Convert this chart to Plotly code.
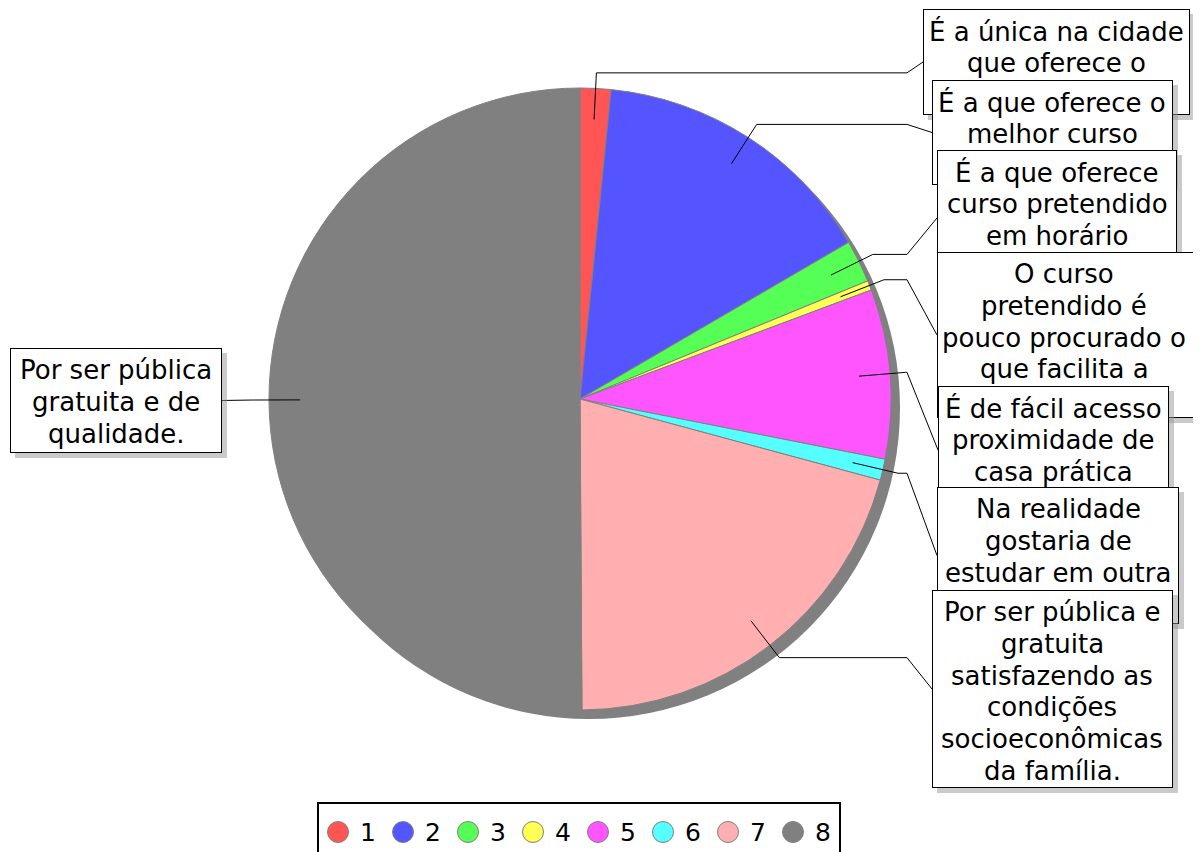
import math
import plotly.graph_objects as go

# ---------------- data ----------------
categories = ["1", "2", "3", "4", "5", "6", "7", "8"]
values = [1.6, 15.0, 2.2, 0.5, 8.8, 1.1, 20.7, 50.1]
colors = ["#FF5555", "#5555FF", "#55FF55", "#FFFF55",
          "#FF55FF", "#55FFFF", "#FFAFAF", "#808080"]
label_lines = [
    ["É a única na cidade", "que oferece o"],
    ["É a que oferece o", "melhor curso"],
    ["É a que oferece", "curso pretendido", "em horário"],
    ["O curso", "pretendido é", "pouco procurado o", "que facilita a"],
    ["É de fácil acesso", "proximidade de", "casa prática"],
    ["Na realidade", "gostaria de", "estudar em outra"],
    ["Por ser pública e", "gratuita", "satisfazendo as", "condições",
     "socioeconômicas", "da família."],
    ["Por ser pública", "gratuita e de", "qualidade."],
]

# ---------------- layout constants (screen pixels) ----------------
W, H = 1201, 852
PAGE_OFF = 8          # default body margin of the html page
CX, CY, R = 580, 399, 311
PIE_SHADOW = 9
FONT = "DejaVu Sans"
FS = 26
LINE_H = 31.8
FIRST_LINE = 22
# label boxes: left, top, right, bottom, text centre x
boxes = [
    (923, 9, 1190, 115, 1056),
    (932, 80, 1173, 185, 1052),
    (937, 150, 1177, 286, 1057),
    (937, 252, 1215, 418, 1064),
    (938, 386, 1169, 514, 1053),
    (937, 487, 1179, 624, 1058),
    (932, 590, 1173, 788, 1052),
    (10, 348, 222, 453, 116),
]
LINK_X_RIGHT = 907
LINK_X_LEFT = 2 * CX - LINK_X_RIGHT
BOX_SHADOW = 5


def px(x):
    return (x - PAGE_OFF) / W


def py(y):
    return 1 - (y - PAGE_OFF) / H


fig = go.Figure()
fig.add_trace(go.Pie(
    labels=categories, values=values, sort=False, direction="clockwise",
    rotation=0, textinfo="none", hoverinfo="label+percent", showlegend=False,
    marker=dict(colors=colors, line=dict(color="#808080", width=1)),
    domain=dict(x=[px(CX - R), px(CX + R)], y=[py(CY + R), py(CY - R)]),
))

shapes = []
# pie shadow
shapes.append(dict(type="circle", xref="paper", yref="paper", layer="below",
                   x0=px(CX - R + PIE_SHADOW), x1=px(CX + R + PIE_SHADOW),
                   y0=py(CY + R + PIE_SHADOW), y1=py(CY - R + PIE_SHADOW),
                   fillcolor="#808080", line=dict(width=0)))

# leader lines computed from slice mid-angles
total = sum(values)
cum = 0.0
for i, v in enumerate(values):
    mid = (cum + v / 2) / total * 2 * math.pi
    cum += v
    ax, ay = CX + 0.9 * R * math.sin(mid), CY - 0.9 * R * math.cos(mid)
    ex, ey = CX + 1.05 * R * math.sin(mid), CY - 1.05 * R * math.cos(mid)
    l, t, r, b, _ = boxes[i]
    bcy = (t + b) / 2
    if math.sin(mid) >= 0:
        pts = [(ax, ay), (ex, ey), (LINK_X_RIGHT, ey), (l, bcy)]
    else:
        pts = [(ax, ay), (ex, ey), (LINK_X_LEFT, ey), (r, bcy)]
    path = "M " + " L ".join(f"{px(x):.5f},{py(y):.5f}" for x, y in pts)
    shapes.append(dict(type="path", xref="paper", yref="paper", path=path,
                       line=dict(color="black", width=1), layer="above"))

annotations = []
for i, lines in enumerate(label_lines):
    l, t, r, b, tx = boxes[i]
    # shadow
    annotations.append(dict(
        xref="paper", yref="paper", x=px(l + BOX_SHADOW), y=py(t + BOX_SHADOW),
        xanchor="left", yanchor="top", text=" ", showarrow=False,
        width=r - l, height=b - t, borderpad=0, borderwidth=0,
        bgcolor="rgba(150,150,150,0.5)", font=dict(family=FONT, size=FS)))
    # box
    annotations.append(dict(
        xref="paper", yref="paper", x=px(l), y=py(t),
        xanchor="left", yanchor="top", text=" ", showarrow=False,
        width=r - l - 2, height=b - t - 2, borderpad=0, borderwidth=1,
        bordercolor="black", bgcolor="white",
        font=dict(family=FONT, size=FS)))
    # text lines
    for k, line in enumerate(lines):
        annotations.append(dict(
            xref="paper", yref="paper", x=px(tx), y=py(t + FIRST_LINE + k * LINE_H),
            xanchor="center", yanchor="middle", text=line, showarrow=False,
            borderpad=0, font=dict(family=FONT, size=FS, color="black")))

# legend (drawn manually: circles + labels inside a bordered box)
LEG_L, LEG_T, LEG_R, LEG_B = 318, 803, 840, 872
LEG_X0, LEG_DX, LEG_Y, LEG_RAD = 338, 65, 832, 10.5
shapes.append(dict(type="rect", xref="paper", yref="paper",
                   x0=px(LEG_L), x1=px(LEG_R), y0=py(LEG_B), y1=py(LEG_T),
                   line=dict(color="black", width=2), fillcolor="white",
                   layer="above"))
for i, cat in enumerate(categories):
    cx = LEG_X0 + i * LEG_DX
    shapes.append(dict(type="circle", xref="paper", yref="paper",
                       x0=px(cx - LEG_RAD), x1=px(cx + LEG_RAD),
                       y0=py(LEG_Y + LEG_RAD), y1=py(LEG_Y - LEG_RAD),
                       fillcolor=colors[i], line=dict(color="#808080", width=1),
                       layer="above"))
    annotations.append(dict(
        xref="paper", yref="paper", x=px(cx + 20), y=py(LEG_Y),
        xanchor="left", yanchor="middle", text=cat, showarrow=False,
        font=dict(family=FONT, size=25, color="black")))

fig.update_layout(
    width=W, height=H, margin=dict(l=0, r=0, t=0, b=0),
    paper_bgcolor="white", plot_bgcolor="white",
    shapes=shapes, annotations=annotations, showlegend=False,
)
fig.write_html("out.html")
